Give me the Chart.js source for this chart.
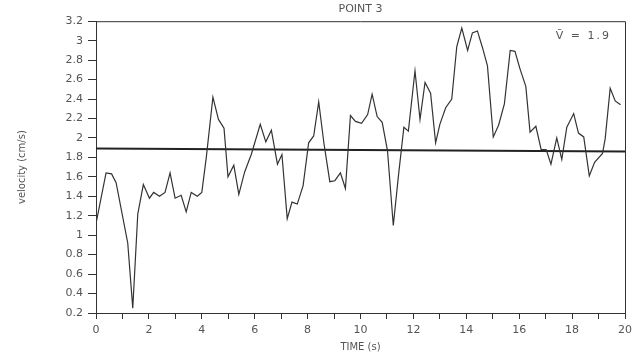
<!DOCTYPE html>
<html>
<head>
<meta charset="utf-8">
<script src="https://cdn.jsdelivr.net/npm/chart.js@4/dist/chart.umd.min.js"></script>
<style>
  html, body { margin: 0; padding: 0; background: #fff; }
  #wrap { width: 639px; height: 360px; }
</style>
</head>
<body>
<div id="wrap"><canvas id="chart"></canvas></div>
<script>
// time (s) and velocity (cm/s)
var times = [0, 0.38, 0.59, 0.76, 1.2, 1.39, 1.58, 1.79, 2.02, 2.18,
	2.4, 2.61, 2.8, 2.99, 3.22, 3.41, 3.6, 3.83, 4.0, 4.17,
	4.42, 4.63, 4.84, 4.99, 5.21, 5.4, 5.62, 5.87, 6.21, 6.42,
	6.63, 6.86, 7.03, 7.23, 7.41, 7.61, 7.83, 8.04, 8.23, 8.42,
	8.62, 8.84, 9.03, 9.24, 9.43, 9.62, 9.81, 10.04, 10.27, 10.44,
	10.63, 10.82, 11.02, 11.24, 11.43, 11.64, 11.81, 12.06, 12.25, 12.44,
	12.65, 12.84, 13.0, 13.22, 13.45, 13.64, 13.83, 14.05, 14.23, 14.42,
	14.61, 14.8, 15.02, 15.22, 15.44, 15.66, 15.84, 16.03, 16.25, 16.41,
	16.63, 16.83, 17.02, 17.2, 17.42, 17.61, 17.8, 18.06, 18.24, 18.44,
	18.65, 18.85, 19.15, 19.25, 19.44, 19.63, 19.83];
var velocity = [1.12, 1.64, 1.63, 1.54, 0.92, 0.25, 1.22, 1.52, 1.38, 1.44,
	1.40, 1.44, 1.64, 1.38, 1.41, 1.24, 1.44, 1.40, 1.44, 1.80,
	2.42, 2.19, 2.10, 1.60, 1.72, 1.42, 1.65, 1.83, 2.14, 1.96,
	2.08, 1.73, 1.83, 1.17, 1.34, 1.32, 1.51, 1.95, 2.02, 2.37,
	1.94, 1.55, 1.56, 1.64, 1.48, 2.23, 2.17, 2.15, 2.24, 2.45,
	2.22, 2.16, 1.87, 1.10, 1.60, 2.11, 2.07, 2.69, 2.19, 2.57,
	2.46, 1.95, 2.14, 2.31, 2.40, 2.94, 3.13, 2.90, 3.08, 3.10,
	2.93, 2.74, 2.01, 2.13, 2.35, 2.90, 2.89, 2.71, 2.53, 2.06,
	2.12, 1.88, 1.88, 1.73, 2.0, 1.78, 2.11, 2.25, 2.05, 2.01,
	1.61, 1.75, 1.84, 1.99, 2.51, 2.38, 2.34];

// mean line (drawn slightly sloped in the original)
var meanTimes = [0, 20];
var meanValues = [1.89, 1.86];
var meanLabel = "V\u0304 = 1.9";

var textColor = "#555";
var fontFam = "'DejaVu Sans', sans-serif";

function toPoints(xs, ys)
{
	var pts = [];
	for (let i = 0; i < xs.length; i++)
	{
		pts.push({ x: xs[i], y: ys[i] });
	}
	return pts;
}

// frame round the plot area + the mean annotation
var framePlugin = {
	id: "frame",
	afterDraw: function(chart) {
		var a = chart.chartArea;
		var ctx = chart.ctx;
		ctx.save();
		ctx.strokeStyle = "#333";
		ctx.lineWidth = 1;
		ctx.beginPath();
		ctx.moveTo(a.left, a.top + 0.5);
		ctx.lineTo(a.right + 0.5, a.top + 0.5);
		ctx.lineTo(a.right + 0.5, a.bottom);
		ctx.stroke();
		ctx.fillStyle = textColor;
		ctx.font = "11px " + fontFam;
		ctx.letterSpacing = "2px";
		ctx.textAlign = "right";
		ctx.textBaseline = "middle";
		ctx.fillText(meanLabel, a.right - 14, a.top + 15);
		ctx.restore();
	}
};

window.onload = function(){
	var ctx = document.getElementById("chart").getContext("2d");
	var mychart = new Chart(ctx, {
		type: "scatter",
		data: {
			datasets: [{
				data: toPoints(times, velocity),
				showLine: true,
				borderColor: "#333",
				borderWidth: 1.2,
				pointRadius: 0,
				tension: 0
			}, {
				data: toPoints(meanTimes, meanValues),
				showLine: true,
				borderColor: "#222",
				borderWidth: 2,
				pointRadius: 0
			}]
		},
		plugins: [framePlugin],
		options: {
			responsive: true,
			maintainAspectRatio: false,
			animation: false,
			layout: { padding: { top: 0, right: 14, bottom: 0, left: 0 } },
			plugins: {
				legend: { display: false },
				tooltip: { enabled: false },
				title: {
					display: true,
					text: "POINT 3",
					fullSize: false,
					color: textColor,
					font: { family: fontFam, size: 11, weight: "normal" },
					padding: { top: 3, bottom: 5 }
				}
			},
			scales: {
				x: {
					type: "linear",
					min: 0,
					max: 20,
					afterFit: function(scale) { scale.height = 47; },
					ticks: {
						stepSize: 1,
						color: textColor,
						padding: 5,
						maxRotation: 0,
						autoSkip: false,
						font: { family: fontFam, size: 11 },
						callback: function(v) { return v % 2 === 0 ? v.toString() : ""; }
					},
					grid: { drawOnChartArea: false, tickLength: 6, color: "#333" },
					border: { color: "#333", width: 1 },
					title: {
						display: true,
						text: "TIME (s)",
						color: textColor,
						font: { family: fontFam, size: 10 },
						padding: { top: 0, bottom: 7 }
					}
				},
				y: {
					min: 0.2,
					max: 3.2,
					afterFit: function(scale) { scale.width = 96; },
					ticks: {
						stepSize: 0.2,
						color: textColor,
						padding: 5,
						font: { family: fontFam, size: 11 },
						callback: function(v) { return parseFloat(v.toFixed(1)).toString(); }
					},
					grid: { drawOnChartArea: false, tickLength: 8, color: "#333" },
					border: { color: "#333", width: 1 },
					title: {
						display: true,
						text: "velocity (cm/s)",
						color: textColor,
						font: { family: fontFam, size: 10 },
						padding: { top: 16, bottom: 0 }
					}
				}
			}
		}
	});
}
</script>
</body>
</html>
